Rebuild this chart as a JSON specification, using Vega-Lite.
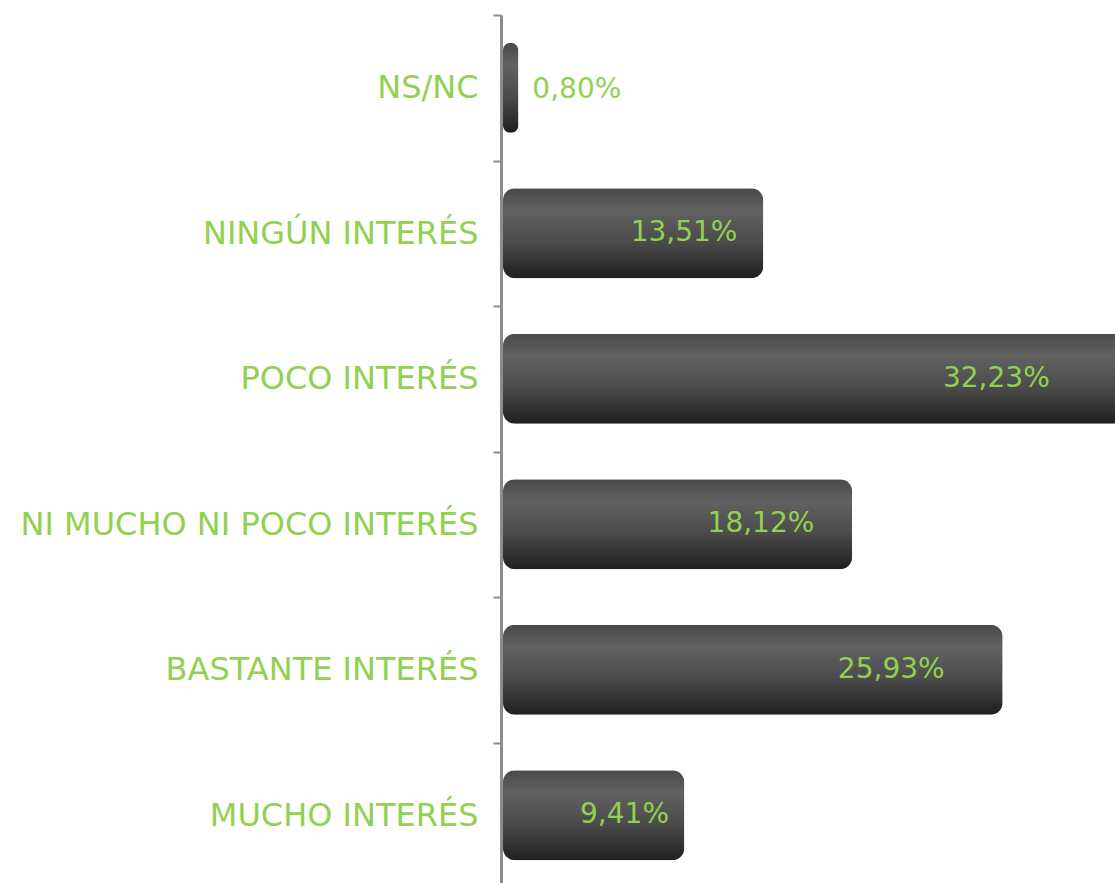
{
  "$schema": "https://vega.github.io/schema/vega-lite/v6.json",
  "autosize": "none",
  "padding": {"left": 501, "top": 15, "right": 0, "bottom": 0},
  "width": 614,
  "height": 868,
  "background": "white",
  "config": {"view": {"stroke": null}},
  "data": {
    "values": [
      {"cat": "NS/NC", "value": 0.80, "label": "0,80%"},
      {"cat": "NINGÚN INTERÉS", "value": 13.51, "label": "13,51%"},
      {"cat": "POCO INTERÉS", "value": 32.23, "label": "32,23%"},
      {"cat": "NI MUCHO NI POCO INTERÉS", "value": 18.12, "label": "18,12%"},
      {"cat": "BASTANTE INTERÉS", "value": 25.93, "label": "25,93%"},
      {"cat": "MUCHO INTERÉS", "value": 9.41, "label": "9,41%"}
    ]
  },
  "encoding": {
    "y": {
      "field": "cat",
      "type": "nominal",
      "sort": null,
      "scale": {"range": [0, 873], "paddingInner": 0, "paddingOuter": 0},
      "axis": {
        "title": null,
        "domainColor": "#8c8c8c",
        "domainWidth": 3,
        "tickColor": "#8c8c8c",
        "tickWidth": 2,
        "tickSize": 8,
        "tickBand": "extent",
        "labelColor": "#92D050",
        "labelFont": "DejaVu Sans",
        "labelFontSize": 32,
        "labelPadding": 15,
        "labelLimit": 600
      }
    }
  },
  "layer": [
    {
      "mark": {
        "type": "bar",
        "cornerRadius": 12,
        "height": {"band": 0.62},
        "color": {
          "gradient": "linear",
          "x1": 0, "y1": 0, "x2": 0, "y2": 1,
          "stops": [
            {"offset": 0, "color": "#4a4a4a"},
            {"offset": 0.25, "color": "#616161"},
            {"offset": 0.6, "color": "#4b4b4b"},
            {"offset": 1, "color": "#1f1f1f"}
          ]
        }
      },
      "encoding": {
        "x": {
          "field": "value",
          "type": "quantitative",
          "scale": {"domain": [0, 32.23], "range": [2, 623], "nice": false},
          "axis": null
        }
      }
    },
    {
      "transform": [{"filter": "datum.value >= 2"}],
      "mark": {
        "type": "text",
        "align": "right",
        "baseline": "middle",
        "dx": 11,
        "font": "DejaVu Sans",
        "fontSize": 28,
        "color": "#92D050"
      },
      "encoding": {
        "x": {
          "field": "value",
          "type": "quantitative",
          "scale": {"domain": [0, 36.8], "nice": false},
          "axis": null
        },
        "text": {"field": "label"}
      }
    },
    {
      "transform": [{"filter": "datum.value < 2"}],
      "mark": {
        "type": "text",
        "align": "left",
        "baseline": "middle",
        "dx": 18,
        "dy": 2,
        "font": "DejaVu Sans",
        "fontSize": 28,
        "color": "#92D050"
      },
      "encoding": {
        "x": {
          "field": "value",
          "type": "quantitative",
          "scale": {"domain": [0, 36.8], "nice": false},
          "axis": null
        },
        "text": {"field": "label"}
      }
    }
  ],
  "resolve": {"scale": {"x": "independent"}}
}
